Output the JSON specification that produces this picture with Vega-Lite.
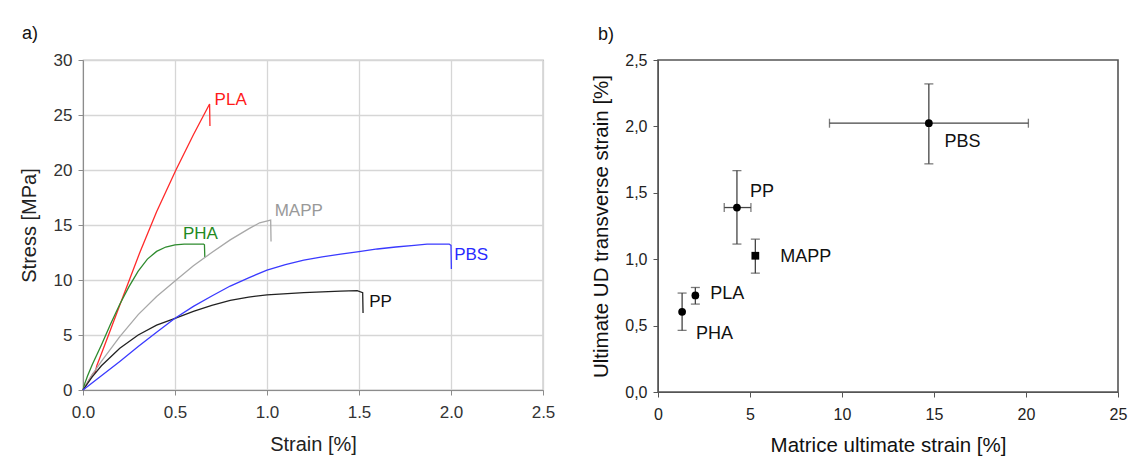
{
  "$schema": "https://vega.github.io/schema/vega-lite/v6.json",
  "autosize": {"type": "none"},
  "padding": {"left": 83, "top": 60, "right": 1048, "bottom": 410},
  "background": "white",
  "bounds": "flush",
  "spacing": 115,
  "datasets": {
    "curves": [
      {"m": "PLA", "i": 0, "s": 0, "st": 0},
      {"m": "PLA", "i": 1, "s": 0.04, "st": 1.1},
      {"m": "PLA", "i": 2, "s": 0.055, "st": 1.5},
      {"m": "PLA", "i": 3, "s": 0.066, "st": 1.6},
      {"m": "PLA", "i": 4, "s": 0.075, "st": 2.2},
      {"m": "PLA", "i": 5, "s": 0.1, "st": 3.3},
      {"m": "PLA", "i": 6, "s": 0.15, "st": 5.5},
      {"m": "PLA", "i": 7, "s": 0.211, "st": 8.2},
      {"m": "PLA", "i": 8, "s": 0.311, "st": 12.6},
      {"m": "PLA", "i": 9, "s": 0.4, "st": 16.2},
      {"m": "PLA", "i": 10, "s": 0.505, "st": 20.0},
      {"m": "PLA", "i": 11, "s": 0.6, "st": 23.2},
      {"m": "PLA", "i": 12, "s": 0.688, "st": 26.0},
      {"m": "PLA", "i": 13, "s": 0.69, "st": 24.0},
      {"m": "PHA", "i": 0, "s": 0, "st": 0},
      {"m": "PHA", "i": 1, "s": 0.01, "st": 0.6},
      {"m": "PHA", "i": 2, "s": 0.025, "st": 1.3},
      {"m": "PHA", "i": 3, "s": 0.05, "st": 2.3},
      {"m": "PHA", "i": 4, "s": 0.1, "st": 4.1},
      {"m": "PHA", "i": 5, "s": 0.15, "st": 6.0},
      {"m": "PHA", "i": 6, "s": 0.2, "st": 7.8},
      {"m": "PHA", "i": 7, "s": 0.25, "st": 9.4},
      {"m": "PHA", "i": 8, "s": 0.3, "st": 10.8},
      {"m": "PHA", "i": 9, "s": 0.35, "st": 11.9},
      {"m": "PHA", "i": 10, "s": 0.4, "st": 12.6},
      {"m": "PHA", "i": 11, "s": 0.45, "st": 13.0},
      {"m": "PHA", "i": 12, "s": 0.5, "st": 13.2},
      {"m": "PHA", "i": 13, "s": 0.55, "st": 13.27},
      {"m": "PHA", "i": 14, "s": 0.655, "st": 13.27},
      {"m": "PHA", "i": 15, "s": 0.66, "st": 13.2},
      {"m": "PHA", "i": 16, "s": 0.662, "st": 12.1},
      {"m": "MAPP", "i": 0, "s": 0, "st": 0},
      {"m": "MAPP", "i": 1, "s": 0.05, "st": 1.4},
      {"m": "MAPP", "i": 2, "s": 0.1, "st": 2.6},
      {"m": "MAPP", "i": 3, "s": 0.2, "st": 4.85},
      {"m": "MAPP", "i": 4, "s": 0.3, "st": 6.85},
      {"m": "MAPP", "i": 5, "s": 0.4, "st": 8.5},
      {"m": "MAPP", "i": 6, "s": 0.5, "st": 9.9},
      {"m": "MAPP", "i": 7, "s": 0.6, "st": 11.3},
      {"m": "MAPP", "i": 8, "s": 0.7, "st": 12.5},
      {"m": "MAPP", "i": 9, "s": 0.8, "st": 13.65},
      {"m": "MAPP", "i": 10, "s": 0.9, "st": 14.65},
      {"m": "MAPP", "i": 11, "s": 0.96, "st": 15.2},
      {"m": "MAPP", "i": 12, "s": 1.02, "st": 15.45},
      {"m": "MAPP", "i": 13, "s": 1.022, "st": 13.5},
      {"m": "PP", "i": 0, "s": 0, "st": 0},
      {"m": "PP", "i": 1, "s": 0.05, "st": 1.2},
      {"m": "PP", "i": 2, "s": 0.1, "st": 2.2},
      {"m": "PP", "i": 3, "s": 0.2, "st": 3.8},
      {"m": "PP", "i": 4, "s": 0.3, "st": 5.0},
      {"m": "PP", "i": 5, "s": 0.4, "st": 5.9},
      {"m": "PP", "i": 6, "s": 0.5, "st": 6.52},
      {"m": "PP", "i": 7, "s": 0.6, "st": 7.15},
      {"m": "PP", "i": 8, "s": 0.7, "st": 7.7},
      {"m": "PP", "i": 9, "s": 0.8, "st": 8.15},
      {"m": "PP", "i": 10, "s": 0.9, "st": 8.45},
      {"m": "PP", "i": 11, "s": 1.0, "st": 8.64},
      {"m": "PP", "i": 12, "s": 1.2, "st": 8.85},
      {"m": "PP", "i": 13, "s": 1.4, "st": 8.98},
      {"m": "PP", "i": 14, "s": 1.49, "st": 9.03},
      {"m": "PP", "i": 15, "s": 1.52, "st": 8.85},
      {"m": "PP", "i": 16, "s": 1.522, "st": 7.0},
      {"m": "PBS", "i": 0, "s": 0, "st": 0},
      {"m": "PBS", "i": 1, "s": 0.1, "st": 1.3},
      {"m": "PBS", "i": 2, "s": 0.2, "st": 2.6},
      {"m": "PBS", "i": 3, "s": 0.3, "st": 3.95},
      {"m": "PBS", "i": 4, "s": 0.4, "st": 5.25},
      {"m": "PBS", "i": 5, "s": 0.5, "st": 6.52},
      {"m": "PBS", "i": 6, "s": 0.6, "st": 7.6},
      {"m": "PBS", "i": 7, "s": 0.7, "st": 8.55},
      {"m": "PBS", "i": 8, "s": 0.8, "st": 9.45},
      {"m": "PBS", "i": 9, "s": 0.9, "st": 10.2},
      {"m": "PBS", "i": 10, "s": 1.0, "st": 10.9},
      {"m": "PBS", "i": 11, "s": 1.1, "st": 11.4},
      {"m": "PBS", "i": 12, "s": 1.2, "st": 11.8},
      {"m": "PBS", "i": 13, "s": 1.3, "st": 12.1},
      {"m": "PBS", "i": 14, "s": 1.4, "st": 12.35},
      {"m": "PBS", "i": 15, "s": 1.5, "st": 12.58},
      {"m": "PBS", "i": 16, "s": 1.6, "st": 12.82},
      {"m": "PBS", "i": 17, "s": 1.7, "st": 13.0},
      {"m": "PBS", "i": 18, "s": 1.8, "st": 13.15},
      {"m": "PBS", "i": 19, "s": 1.87, "st": 13.27},
      {"m": "PBS", "i": 20, "s": 1.99, "st": 13.27},
      {"m": "PBS", "i": 21, "s": 2.0, "st": 13.15},
      {"m": "PBS", "i": 22, "s": 2.002, "st": 11.0}
    ],
    "ends": [
      {"m": "PLA", "s": 0.688, "st": 26.0},
      {"m": "MAPP", "s": 1.02, "st": 15.45},
      {"m": "PHA", "s": 0.66, "st": 13.27},
      {"m": "PBS", "s": 1.99, "st": 13.27},
      {"m": "PP", "s": 1.49, "st": 9.03}
    ],
    "ult": [
      {"m": "PHA", "v": 1.31, "u": 0.604, "ulo": 0.464, "uhi": 0.745, "vlo": null, "vhi": null},
      {"m": "PLA", "v": 2.03, "u": 0.727, "ulo": 0.662, "uhi": 0.787, "vlo": null, "vhi": null},
      {"m": "PP", "v": 4.29, "u": 1.389, "ulo": 1.114, "uhi": 1.667, "vlo": 3.6, "vhi": 5.05},
      {"m": "MAPP", "v": 5.29, "u": 1.026, "ulo": 0.895, "uhi": 1.151, "vlo": null, "vhi": null},
      {"m": "PBS", "v": 14.72, "u": 2.024, "ulo": 1.718, "uhi": 2.32, "vlo": 9.32, "vhi": 20.13}
    ]
  },
  "hconcat": [
    {
      "width": 460,
      "height": 330,
      "title": {"text": "a)", "anchor": "start", "frame": "group", "dx": -61, "offset": 8, "fontSize": 18, "fontWeight": "normal", "color": "#111"},
      "view": {"stroke": "#8c8c8c", "strokeWidth": 1.2},
      "encoding": {
        "x": {"field": "s", "type": "quantitative", "scale": {"domain": [0, 2.5], "nice": false, "zero": false},
          "axis": {"values": [0, 0.5, 1, 1.5, 2, 2.5], "format": ".1f", "title": "Strain [%]", "grid": true, "gridColor": "#d6d6d6", "gridWidth": 1.3, "domainColor": "#8c8c8c", "tickColor": "#8c8c8c", "tickSize": 5, "labelPadding": 9, "labelFlush": false, "labelFontSize": 17, "labelColor": "#333", "titleFontSize": 20, "titleFontWeight": "normal", "titleColor": "#222", "titlePadding": 14}},
        "y": {"field": "st", "type": "quantitative", "scale": {"domain": [0, 30], "nice": false},
          "axis": {"values": [0, 5, 10, 15, 20, 25, 30], "format": "d", "title": "Stress [MPa]", "grid": true, "gridColor": "#d6d6d6", "gridWidth": 1.3, "domainColor": "#8c8c8c", "tickColor": "#8c8c8c", "tickSize": 5, "labelPadding": 6, "labelFlush": false, "labelFontSize": 17, "labelColor": "#333", "titleFontSize": 20, "titleFontWeight": "normal", "titleColor": "#222", "titlePadding": 14}}
      },
      "layer": [
        {
          "data": {"name": "curves"},
          "mark": {"type": "line", "strokeWidth": 1.3, "interpolate": "linear"},
          "encoding": {
            "color": {"field": "m", "type": "nominal", "legend": null,
              "scale": {"domain": ["PLA", "PHA", "MAPP", "PP", "PBS"], "range": ["#ff2a2a", "#2e8b2e", "#a8a8a8", "#222222", "#3a3aff"]}},
            "detail": {"field": "m"},
            "order": {"field": "i", "type": "quantitative"}
          }
        },
        {"data": {"name": "ends"}, "transform": [{"filter": "datum.m == 'PLA'"}],
          "mark": {"type": "text", "align": "left", "baseline": "middle", "dx": 5, "dy": -4, "fontSize": 17, "color": "#ff1a1a"},
          "encoding": {"text": {"field": "m"}}},
        {"data": {"name": "ends"}, "transform": [{"filter": "datum.m == 'MAPP'"}],
          "mark": {"type": "text", "align": "left", "baseline": "middle", "dx": 4, "dy": -9, "fontSize": 17, "color": "#999999"},
          "encoding": {"text": {"field": "m"}}},
        {"data": {"name": "ends"}, "transform": [{"filter": "datum.m == 'PHA'"}],
          "mark": {"type": "text", "align": "left", "baseline": "middle", "dx": -21.5, "dy": -10, "fontSize": 17, "color": "#1f8a1f"},
          "encoding": {"text": {"field": "m"}}},
        {"data": {"name": "ends"}, "transform": [{"filter": "datum.m == 'PBS'"}],
          "mark": {"type": "text", "align": "left", "baseline": "middle", "dx": 5, "dy": 11, "fontSize": 17, "color": "#2a2aff"},
          "encoding": {"text": {"field": "m"}}},
        {"data": {"name": "ends"}, "transform": [{"filter": "datum.m == 'PP'"}],
          "mark": {"type": "text", "align": "left", "baseline": "middle", "dx": 12, "dy": 11, "fontSize": 17, "color": "#111111"},
          "encoding": {"text": {"field": "m"}}}
      ]
    },
    {
      "width": 460,
      "height": 332,
      "title": {"text": "b)", "anchor": "start", "frame": "group", "dx": -60, "offset": 8, "fontSize": 18, "fontWeight": "normal", "color": "#111"},
      "view": {"stroke": "#555555", "strokeWidth": 1.6},
      "data": {"name": "ult"},
      "encoding": {
        "x": {"field": "v", "type": "quantitative", "scale": {"domain": [0, 25], "nice": false, "zero": false},
          "axis": {"values": [0, 5, 10, 15, 20, 25], "format": "d", "title": "Matrice ultimate strain [%]", "grid": false, "domainColor": "#555", "tickColor": "#555", "tickSize": 5, "labelPadding": 9, "labelFlush": false, "labelFontSize": 16, "labelColor": "#222", "titleFontSize": 20.5, "titleFontWeight": "normal", "titleColor": "#111", "titlePadding": 13}},
        "y": {"field": "u", "type": "quantitative", "scale": {"domain": [0, 2.5], "nice": false},
          "axis": {"values": [0, 0.5, 1, 1.5, 2, 2.5], "labelExpr": "replace(format(datum.value, '.1f'), '.', ',')", "title": "Ultimate UD transverse strain [%]", "grid": false, "domainColor": "#555", "tickColor": "#555", "tickSize": 5, "labelPadding": 6, "labelFlush": false, "labelFontSize": 16, "labelColor": "#222", "titleFontSize": 20.5, "titleFontWeight": "normal", "titleColor": "#111", "titlePadding": 13}}
      },
      "layer": [
        {"mark": {"type": "rule", "color": "#444", "strokeWidth": 1.3},
          "encoding": {"y": {"field": "ulo", "type": "quantitative"}, "y2": {"field": "uhi"}}},
        {"mark": {"type": "tick", "orient": "horizontal", "size": 9, "thickness": 1.3, "color": "#444"},
          "encoding": {"y": {"field": "uhi", "type": "quantitative"}}},
        {"mark": {"type": "tick", "orient": "horizontal", "size": 9, "thickness": 1.3, "color": "#444"},
          "encoding": {"y": {"field": "ulo", "type": "quantitative"}}},
        {"transform": [{"filter": "datum.vlo != null"}],
          "mark": {"type": "rule", "color": "#444", "strokeWidth": 1.3},
          "encoding": {"x": {"field": "vlo", "type": "quantitative"}, "x2": {"field": "vhi"}}},
        {"transform": [{"filter": "datum.vlo != null"}],
          "mark": {"type": "tick", "orient": "vertical", "size": 9, "thickness": 1.3, "color": "#444"},
          "encoding": {"x": {"field": "vlo", "type": "quantitative"}}},
        {"transform": [{"filter": "datum.vlo != null"}],
          "mark": {"type": "tick", "orient": "vertical", "size": 9, "thickness": 1.3, "color": "#444"},
          "encoding": {"x": {"field": "vhi", "type": "quantitative"}}},
        {"mark": {"type": "point", "filled": true, "opacity": 1, "color": "#000", "size": 60},
          "encoding": {"shape": {"field": "m", "type": "nominal", "legend": null,
            "scale": {"domain": ["PHA", "PLA", "PP", "MAPP", "PBS"], "range": ["circle", "circle", "circle", "square", "circle"]}}}},
        {"transform": [{"filter": "datum.m == 'PBS'"}],
          "mark": {"type": "text", "align": "left", "baseline": "middle", "dx": 15.6, "dy": 19, "fontSize": 18, "color": "#111"},
          "encoding": {"text": {"field": "m"}}},
        {"transform": [{"filter": "datum.m == 'PP'"}],
          "mark": {"type": "text", "align": "left", "baseline": "middle", "dx": 13, "dy": -16, "fontSize": 18, "color": "#111"},
          "encoding": {"text": {"field": "m"}}},
        {"transform": [{"filter": "datum.m == 'MAPP'"}],
          "mark": {"type": "text", "align": "left", "baseline": "middle", "dx": 25, "dy": 1, "fontSize": 18, "color": "#111"},
          "encoding": {"text": {"field": "m"}}},
        {"transform": [{"filter": "datum.m == 'PLA'"}],
          "mark": {"type": "text", "align": "left", "baseline": "middle", "dx": 15, "dy": -1, "fontSize": 18, "color": "#111"},
          "encoding": {"text": {"field": "m"}}},
        {"transform": [{"filter": "datum.m == 'PHA'"}],
          "mark": {"type": "text", "align": "left", "baseline": "middle", "dx": 14, "dy": 22, "fontSize": 18, "color": "#111"},
          "encoding": {"text": {"field": "m"}}}
      ]
    }
  ],
  "config": {
    "font": "Liberation Sans",
    "view": {"stroke": null},
    "axis": {"labelFont": "Liberation Sans", "titleFont": "Liberation Sans"},
    "title": {"font": "Liberation Sans"}
  }
}
